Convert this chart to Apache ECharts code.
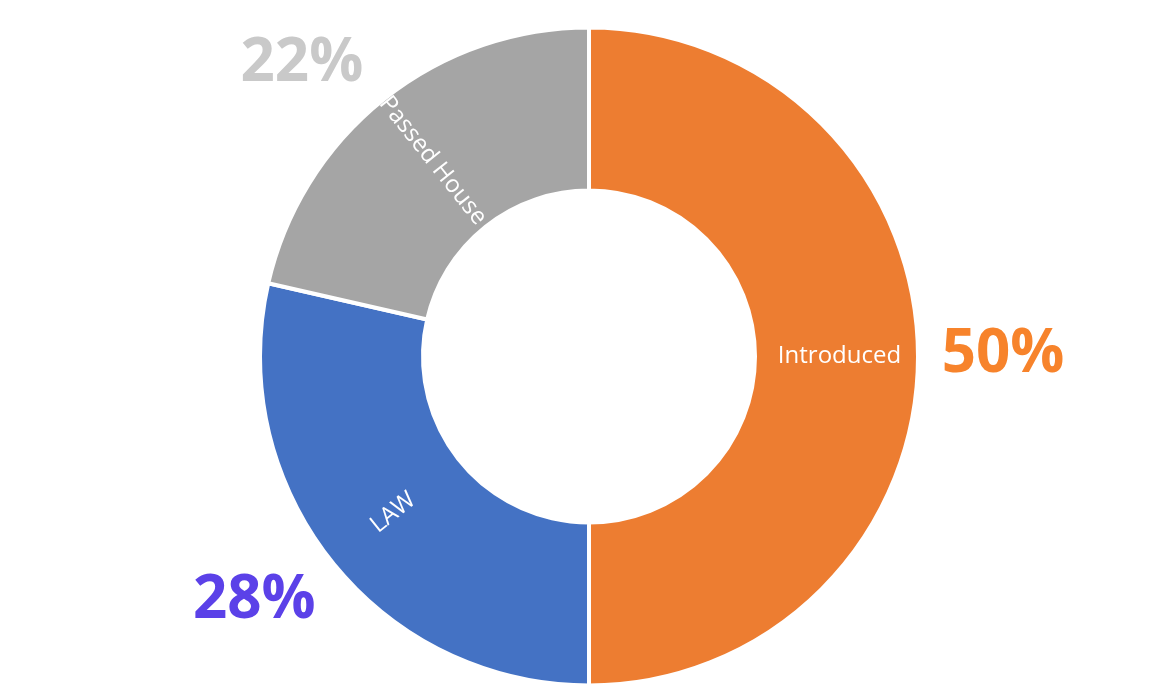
<!DOCTYPE html>
<html>
<head>
<meta charset="utf-8">
<script src="https://cdn.jsdelivr.net/npm/echarts@6/dist/echarts.min.js"></script>
<style>
  html, body { margin: 0; padding: 0; background: #fff; }
  #main { width: 1162px; height: 699px; }
</style>
</head>
<body>
<div id="main"></div>
<script>
// bills by stage (counts), with the percent labels as shown on the chart
var stages = ["Introduced", "LAW", "Passed House"];
var counts = [7, 4, 3];
var pctLabels = ["50%", "28%", "22%"];
var sliceColors = ["#ED7D31", "#4472C4", "#A5A5A5"];
var pctColors = ["#F7832B", "#5B41E8", "#C9C9C9"];

// small nudges of the big percent labels, like the original
var pctOffset = [[0, -2], [-11, -14], [-29, 31]];

var chart = echarts.init(document.getElementById("main"));

var ringData = stages.map(function (name, i) {
  return { name: name, value: counts[i], itemStyle: { color: sliceColors[i] } };
});

var pctData = stages.map(function (name, i) {
  return {
    name: pctLabels[i],
    value: counts[i],
    label: { color: pctColors[i], offset: pctOffset[i] }
  };
});

chart.setOption({
  backgroundColor: "#fff",
  animation: false,
  series: [
    {
      type: "pie",
      center: [589, 356.5],
      radius: [166, 329],
      startAngle: 90,
      clockwise: true,
      silent: true,
      itemStyle: { borderColor: "#fff", borderWidth: 4 },
      label: {
        show: true,
        position: "inside",
        rotate: "radial",
        color: "#fff",
        fontFamily: "Open Sans",
        fontSize: 24,
        formatter: "{b}"
      },
      labelLine: { show: false },
      data: ringData
    },
    {
      // transparent ring only used to place the percent labels
      type: "pie",
      center: [589, 356.5],
      radius: [380, 442],
      startAngle: 90,
      clockwise: true,
      silent: true,
      itemStyle: { color: "rgba(0,0,0,0)" },
      label: {
        show: true,
        position: "inside",
        fontFamily: "Open Sans",
        fontWeight: "bold",
        fontSize: 60,
        formatter: "{b}"
      },
      labelLine: { show: false },
      data: pctData
    }
  ]
});
</script>
</body>
</html>
